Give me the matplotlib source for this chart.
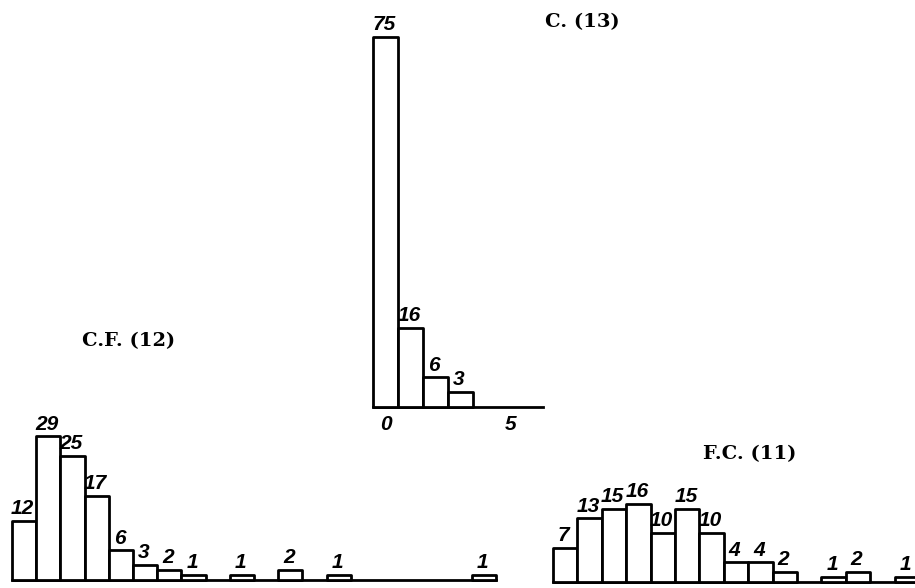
import matplotlib
matplotlib.use("Agg")
import matplotlib.pyplot as plt

# ---- data ----
c_title = "C. (13)"
c_counts = [75, 16, 6, 3]
c_ticks = [0, 5]

cf_title = "C.F. (12)"
cf_counts = [12, 29, 25, 17, 6, 3, 2, 1, 0, 1, 0, 2, 0, 1, 0, 0, 0, 0, 0, 1]

fc_title = "F.C. (11)"
fc_counts = [7, 13, 15, 16, 10, 15, 10, 4, 4, 2, 0, 1, 2, 0, 1]

W, H = 915, 588
fig = plt.figure(figsize=(W / 100, H / 100), dpi=100)
fig.patch.set_facecolor("white")

NUM_FONT = dict(family=["Liberation Sans", "DejaVu Sans"], weight="bold",
                style="italic", fontsize=15)
TITLE_FONT = dict(family=["DejaVu Serif"], weight="bold", fontsize=14)


def place(left_px, base_px, x0, x1, ymax, sx, sy):
    ax = fig.add_axes([left_px / W, (H - base_px) / H,
                       (x1 - x0) * sx / W, ymax * sy / H])
    ax.set_xlim(x0, x1)
    ax.set_ylim(0, ymax)
    for s in ("top", "right", "left"):
        ax.spines[s].set_visible(False)
    ax.spines["bottom"].set_linewidth(2.0)
    ax.set_yticks([])
    ax.set_xticks([])
    ax.patch.set_alpha(0)
    return ax


def draw(ax, counts):
    xs = [i for i, v in enumerate(counts) if v > 0]
    vs = [v for v in counts if v > 0]
    bars = ax.bar(xs, vs, width=1.0, facecolor="white", edgecolor="black",
                  linewidth=2.0, clip_on=False, zorder=3)
    for b in bars:
        b.set_joinstyle("round")
    for x, v in zip(xs, vs):
        ax.annotate(str(v), (x, v), xytext=(-1, 2), textcoords="offset points",
                    ha="center", va="bottom", **NUM_FONT)


# C panel
ax_c = place(373, 407, -0.5, 6.3, 80, 25.0, 4.93)
draw(ax_c, c_counts)
ax_c.set_xticks(c_ticks)
ax_c.set_xticklabels([str(t) for t in c_ticks], **NUM_FONT)
ax_c.tick_params(axis="x", length=0, pad=6)

# C.F. panel
ax_cf = place(12, 580, -0.5, 19.5, 35, 24.2, 4.95)
draw(ax_cf, cf_counts)

# F.C. panel
ax_fc = place(553, 582, -0.5, 14.5, 20, 24.4, 4.9)
draw(ax_fc, fc_counts)

# titles
fig.text(545 / W, 1 - 22 / H, c_title, ha="left", va="center", **TITLE_FONT)
fig.text(82 / W, 1 - 341 / H, cf_title, ha="left", va="center", **TITLE_FONT)
fig.text(703 / W, 1 - 454 / H, fc_title, ha="left", va="center", **TITLE_FONT)

fig.savefig("out.png", dpi=100)
